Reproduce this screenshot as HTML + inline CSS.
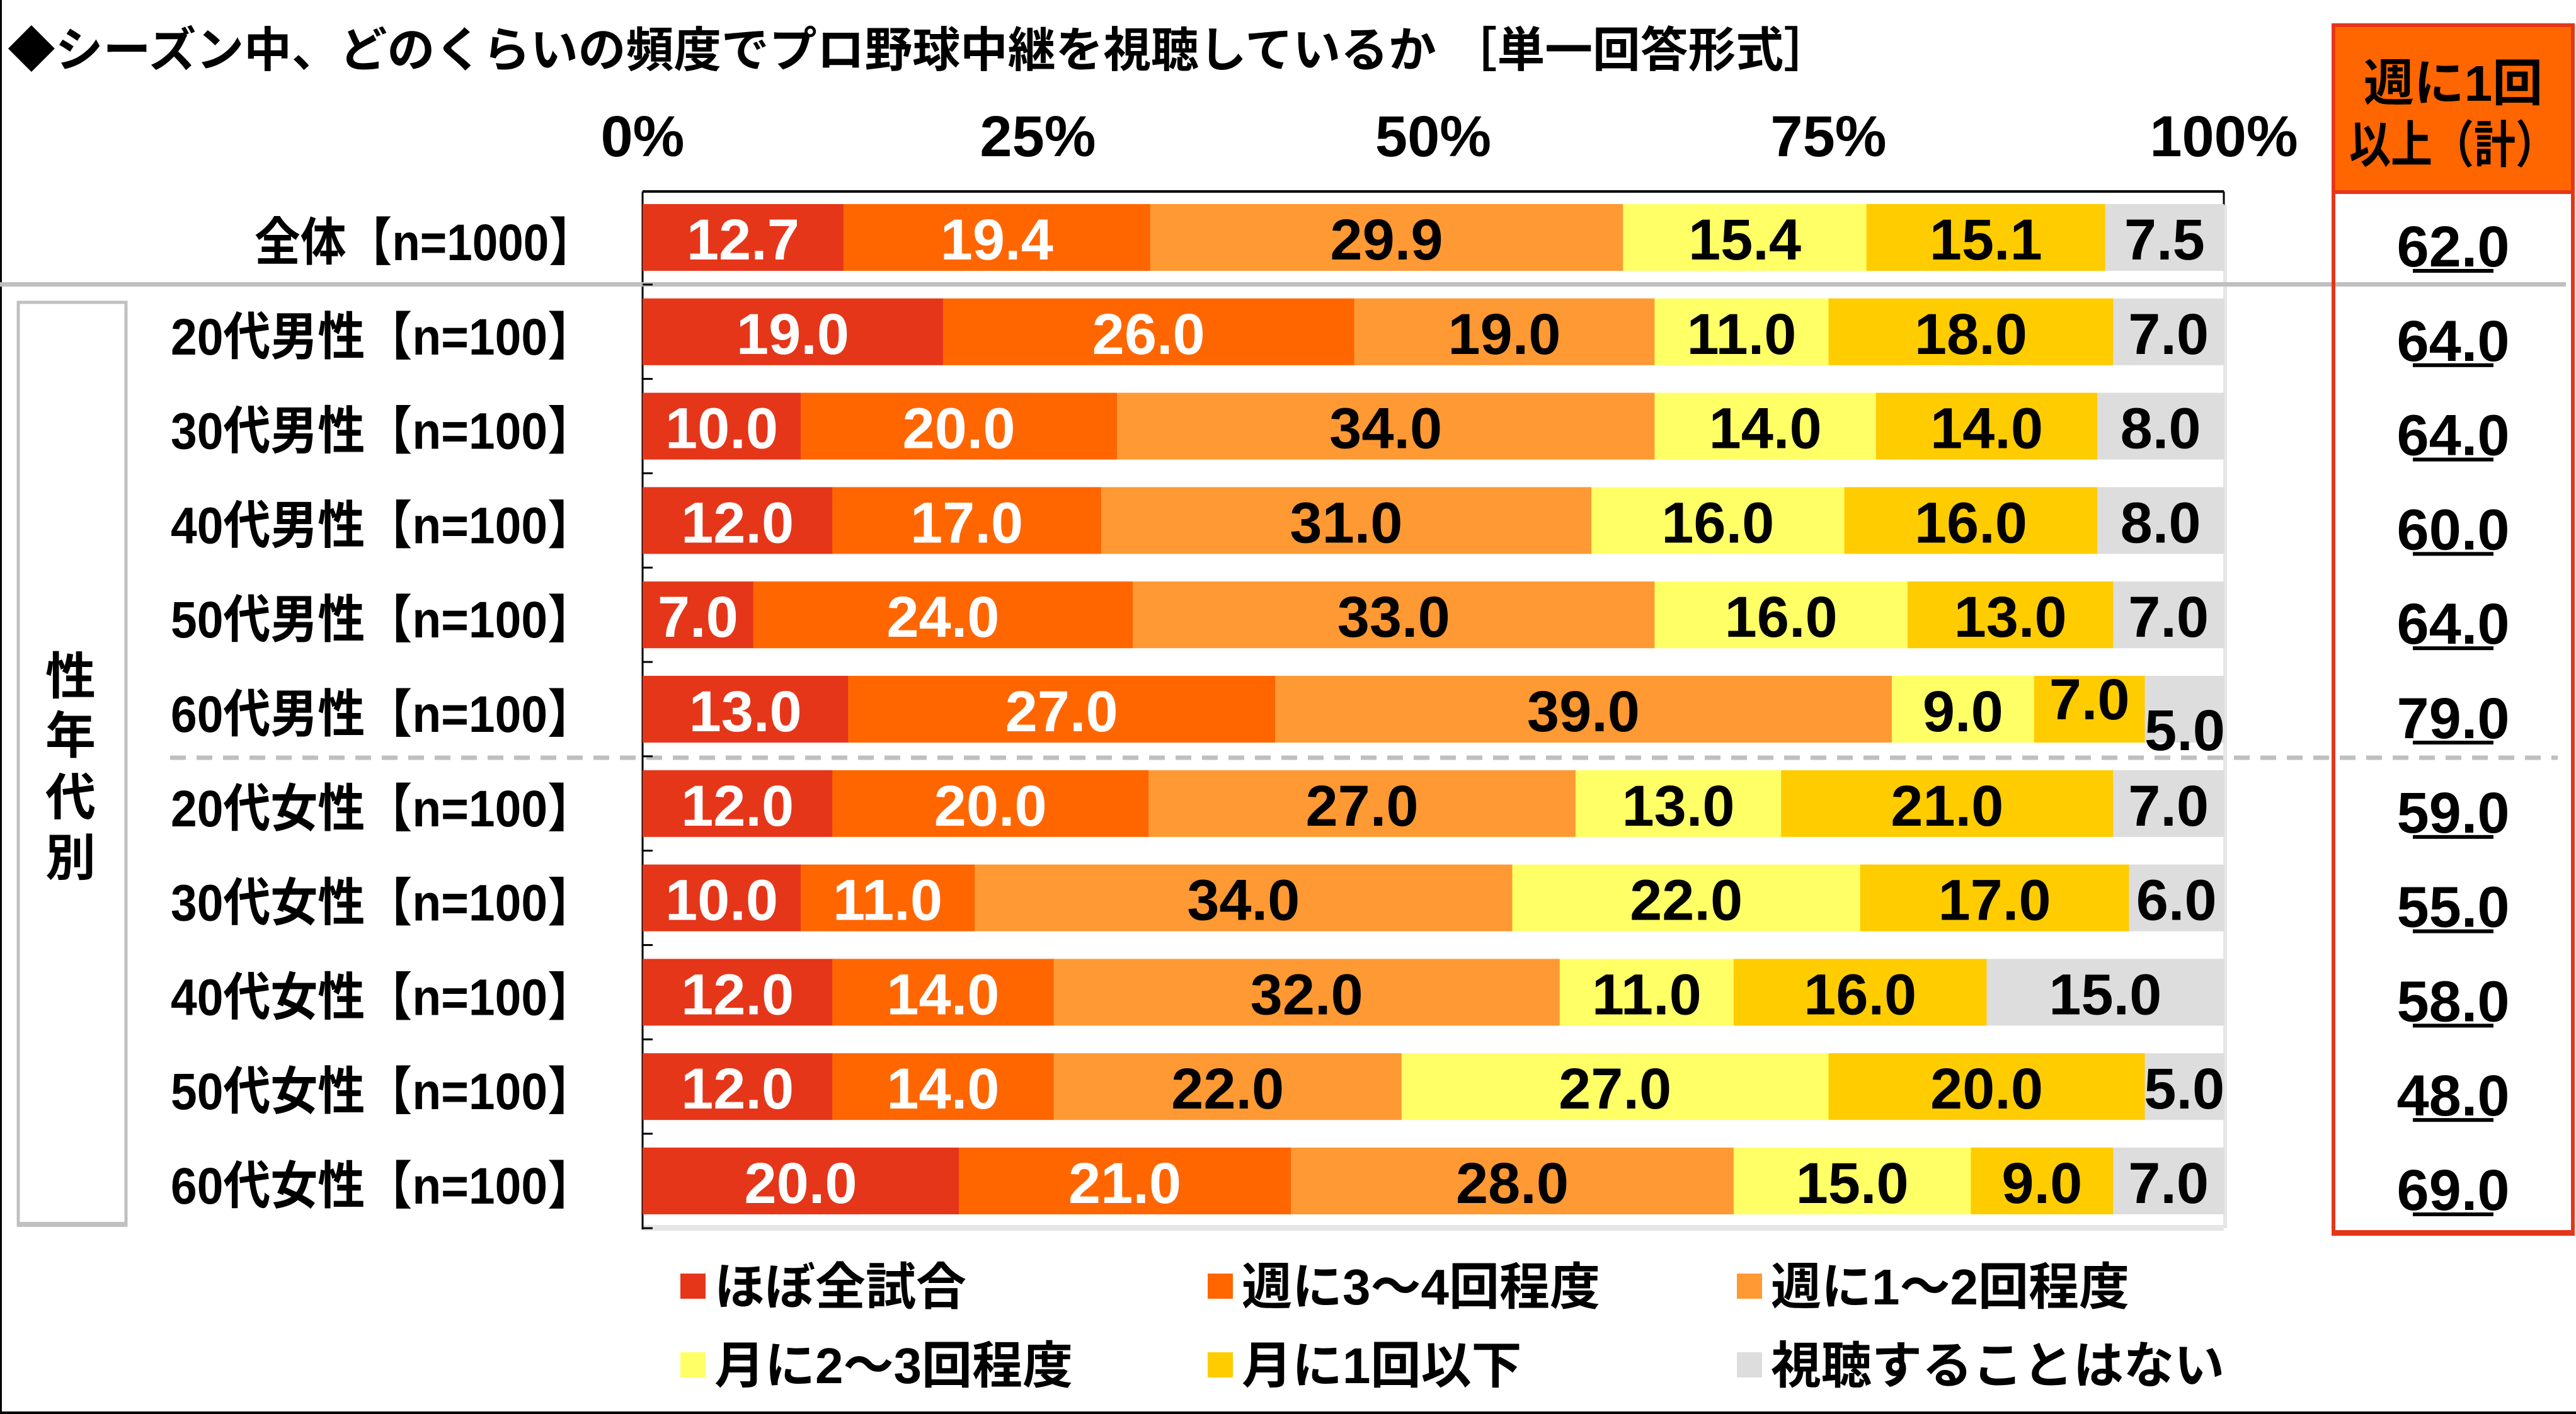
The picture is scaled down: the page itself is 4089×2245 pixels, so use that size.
<!DOCTYPE html>
<html><head><meta charset="utf-8"><style>
html,body{margin:0;padding:0;background:#fff;}
svg{display:block;}
text{font-family:"Liberation Sans","Noto Sans CJK JP",sans-serif;font-weight:bold;}
</style></head><body>
<svg id="s" xmlns="http://www.w3.org/2000/svg" width="4089" height="2245" viewBox="0 0 4089 2245"></svg>
<script>
const s=document.getElementById('s');
let h='';
h+='<rect x="0" y="0" width="4089" height="2245" fill="#fff"/>';
h+='<line x1="1.5" y1="0" x2="1.5" y2="2245" stroke="#000" stroke-width="3"/>';
h+='<line x1="0" y1="2243" x2="4089" y2="2243" stroke="#000" stroke-width="4"/>';
// title
h+='<text x="12" y="106" font-size="76" textLength="2895" lengthAdjust="spacingAndGlyphs">◆シーズン中、どのくらいの頻度でプロ野球中継を視聴しているか ［単一回答形式］</text>';
const L=1020,R=3530,W=R-L,T0=324,ST=149.8,BH=106;
// axis labels
[['0%',0],['25%',25],['50%',50],['75%',75],['100%',100]].forEach(a=>{
 h+=`<text x="${L+W*a[1]/100}" y="248" font-size="92" text-anchor="middle">${a[0]}</text>`;});
// frame
h+=`<line x1="${L}" y1="304" x2="${R}" y2="304" stroke="#000" stroke-width="4"/>`;
h+=`<line x1="${R}" y1="304" x2="${R}" y2="326" stroke="#000" stroke-width="3"/>`;
h+=`<line x1="${R+2}" y1="326" x2="${R+2}" y2="1950" stroke="#e6e6e6" stroke-width="6"/>`;
h+=`<rect x="${L}" y="1945" width="${W}" height="9" fill="#e6e6e6"/>`;
h+=`<line x1="${L}" y1="304" x2="${L}" y2="1952" stroke="#000" stroke-width="3"/>`;
// separators
h+='<rect x="0" y="448" width="4073" height="7" fill="#bfbfbf"/>';
h+='<line x1="270" y1="1203" x2="4060" y2="1203" stroke="#bfbfbf" stroke-width="7" stroke-dasharray="25 17"/>';
// left box
h+='<rect x="29" y="480" width="171" height="1464" fill="none" stroke="#c0c0c0" stroke-width="5"/>';
h+='<rect x="27" y="1940" width="175" height="8" fill="#c0c0c0"/>';
['性','年','代','別'].forEach((c,i)=>{h+=`<text x="112" y="${[1074,1168,1266,1362][i]+28}" font-size="80" text-anchor="middle">${c}</text>`;});
const cols=['#E5361A','#FF6600','#FF9933','#FFFF66','#FFCC00','#DDDDDD'];
const tcol=['#fff','#fff','#000','#000','#000','#000'];
const rows=[
['全体【n=1000】',[12.7,19.4,29.9,15.4,15.1,7.5],'62.0',1],
['20代男性【n=100】',[19,26,19,11,18,7],'64.0'],
['30代男性【n=100】',[10,20,34,14,14,8],'64.0'],
['40代男性【n=100】',[12,17,31,16,16,8],'60.0'],
['50代男性【n=100】',[7,24,33,16,13,7],'64.0'],
['60代男性【n=100】',[13,27,39,9,7,5],'79.0'],
['20代女性【n=100】',[12,20,27,13,21,7],'59.0'],
['30代女性【n=100】',[10,11,34,22,17,6],'55.0'],
['40代女性【n=100】',[12,14,32,11,16,15],'58.0'],
['50代女性【n=100】',[12,14,22,27,20,5],'48.0'],
['60代女性【n=100】',[20,21,28,15,9,7],'69.0']];
rows.forEach((r,i)=>{
 const y=T0+i*ST, cy=y+BH/2;
 h+=`<text x="944" y="${cy+36}" font-size="82" text-anchor="end" textLength="${r[3]?540:673}" lengthAdjust="spacingAndGlyphs">${r[0]}</text>`;
 if(i>0) h+=`<line x1="${L}" y1="${y-22}" x2="${L+16}" y2="${y-22}" stroke="#000" stroke-width="3"/>`;
 let x=L;
 r[1].forEach((v,k)=>{
  const w=W*v/100;
  h+=`<rect x="${x}" y="${y}" width="${w+0.6}" height="${BH}" fill="${cols[k]}"/>`;
  let tx=x+w/2, ty=cy+35;
  if(i==5&&k==4) ty-=19;
  if(i==5&&k==5){tx=3468;ty+=30;}
  h+=`<text x="${tx}" y="${ty}" font-size="92" text-anchor="middle" fill="${tcol[k]}">${v.toFixed(1)}</text>`;
  x+=w;
 });
 h+=`<text x="3894" y="${cy+46}" font-size="92" text-anchor="middle">${r[2]}</text>`;
 h+=`<rect x="3830" y="${cy+50}" width="128" height="6" fill="#000"/>`;
});
h+=`<line x1="${L}" y1="1950" x2="${L+16}" y2="1950" stroke="#000" stroke-width="3"/>`;
// right box
h+='<rect x="3704" y="40" width="380" height="265" fill="#FF6600"/>';
h+='<rect x="3704" y="40" width="380" height="1918" fill="none" stroke="#E5361A" stroke-width="6"/>';
h+='<rect x="3701" y="1953" width="386" height="9" fill="#E5361A"/>';
h+='<line x1="3704" y1="305" x2="4084" y2="305" stroke="#E5361A" stroke-width="6"/>';
h+='<text x="3894" y="160" font-size="80" text-anchor="middle">週に1回</text>';
h+='<text x="3894" y="258" font-size="80" text-anchor="middle" textLength="330" lengthAdjust="spacingAndGlyphs">以上（計）</text>';
// legend
const leg=[['ほぼ全試合',1080,2042],['週に3～4回程度',1917,2042],['週に1～2回程度',2757,2042],['月に2～3回程度',1080,2167],['月に1回以下',1917,2167],['視聴することはない',2757,2167]];
leg.forEach((l,k)=>{
 h+=`<rect x="${l[1]}" y="${l[2]-20}" width="40" height="40" fill="${cols[k]}"/>`;
 h+=`<text x="${l[1]+54}" y="${l[2]+29}" font-size="80">${l[0]}</text>`;
});
s.innerHTML=h;
</script>
</body></html>
